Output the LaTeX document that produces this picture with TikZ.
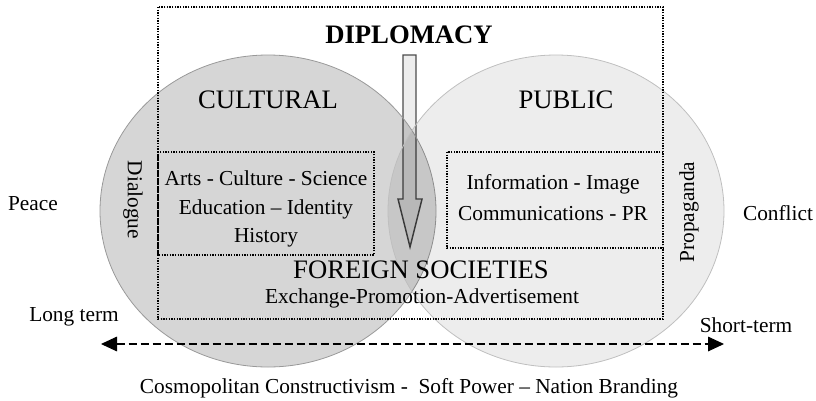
\documentclass[tikz,border=0pt]{standalone}
\usepackage{fontspec}
\setmainfont{Liberation Serif}
\usetikzlibrary{arrows.meta,shapes.geometric}

\begin{document}
\begin{tikzpicture}[
		x=0.75pt, y=-0.75pt,
		every node/.style={inner sep=0pt},
		big/.style={font=\fontsize{20}{24}\selectfont},
		small/.style={font=\fontsize{16}{19}\selectfont},
		field/.style={ellipse, minimum width=252pt, minimum height=234pt, line width=0.6pt},
		dotbox/.style={dash pattern=on 1.1pt off 0.9pt, line width=1.4pt},
		span/.style={dash pattern=on 6pt off 3pt, line width=0.8pt, {Triangle[length=12pt,width=11pt]}-{Triangle[length=12pt,width=11pt]}}
	]
  \useasboundingbox (0,0) rectangle (816,400);
  % downward arrow
  \draw[fill=black!7, draw=black!70, line width=1.1pt] (403,55) -- (416,55) -- (416,199) -- (422,199) -- (410,247) -- (398,199) -- (403,199) -- cycle;
  % the two fields
  \node (cultural) [field, fill=black, fill opacity=0.16, draw=black!40, draw opacity=1] at (268,211) {};
  \node (public) [field, fill=black, fill opacity=0.07, draw=black!25, draw opacity=1] at (556,211) {};
  % dotted frames
  \draw[dotbox] (158,7) rectangle (663,319);
  \draw[dotbox] (158,152) rectangle (374,255);
  \draw[dotbox] (447,152) rectangle (663,248);
  % texts
  \node (diplomacy) [big, font=\fontsize{20}{24}\selectfont\bfseries] at (409,35) {DIPLOMACY};
  \node (cultural_label) [big] at (268,100) {CULTURAL};
  \node (public_label) [big] at (566,100) {PUBLIC};
  \node (arts) [small, align=center, font=\fontsize{16}{21.4}\selectfont] at (266,209) {Arts - Culture - Science\\Education -- Identity\\History};
  \node (info) [small, align=center, font=\fontsize{16}{23}\selectfont] at (553,197.5) {Information - Image\\Communications - PR};
  \node (societies) [big] at (421,270) {FOREIGN SOCIETIES};
  \node (exchange) [small] at (422,298) {Exchange-Promotion-Advertisement};
  \node (dialogue) [small, rotate=-90] at (133,200) {Dialogue};
  \node (propaganda) [small, rotate=90] at (689,212) {Propaganda};
  \node (peace) [small] at (33,204) {Peace};
  \node (conflict) [small] at (778,213) {Conflict};
  \node (long) [small] at (74,317) {Long term};
  \node (short) [small] at (746,325) {Short-term};
  \node (theory) [small] at (409,388) {Cosmopolitan Constructivism -\ \ Soft Power -- Nation Branding};
  % time axis
  \coordinate (long_end) at (101,344);
  \coordinate (short_end) at (724,344);
  \draw[span] (long_end) -- (short_end);
\end{tikzpicture}
\end{document}
